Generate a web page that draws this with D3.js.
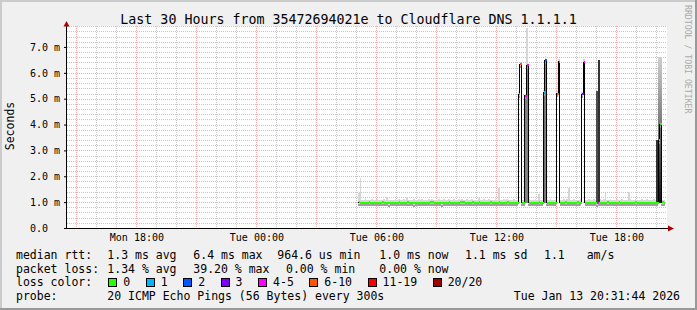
<!DOCTYPE html>
<html>
<head>
<meta charset="utf-8">
<script src="https://cdn.jsdelivr.net/npm/d3@7"></script>
<style>
  body { margin: 0; background: #f0f0f0; }
  text { font-family: "DejaVu Sans Mono", monospace; fill: #000; }
</style>
</head>
<body>
<script>
// graph window (30 hours) and sample grid (5 min rrd step)
var timeStart = new Date(2026, 0, 12, 14, 31, 44);
var timeEnd = new Date(2026, 0, 13, 20, 31, 44);
var sampleStart = new Date(2026, 0, 13, 5, 5);
var stepMin = 5;

// median rtt per sample, in ms
var median = [
  0.99,0.98,0.97,0.98,0.97,0.98,0.99,0.98,0.97,0.97,
  0.98,0.98,0.97,0.98,0.99,0.98,0.98,0.97,0.96,0.97,
  0.98,0.98,0.97,0.98,0.99,0.98,0.97,0.97,0.98,0.99,
  0.98,0.97,0.97,0.96,0.97,0.98,0.98,0.97,0.98,0.98,
  0.97,0.97,0.98,0.99,0.99,0.98,0.97,0.98,0.98,0.97,
  0.96,0.97,0.98,0.98,0.99,0.98,0.97,0.98,0.98,0.97,
  0.98,0.99,1.00,0.99,0.98,0.97,0.98,0.98,0.99,0.98,
  0.97,0.98,0.99,0.98,0.97,0.98,0.98,0.97,0.98,0.99,
  0.98,0.98,0.97,0.98,0.99,0.98,0.97,0.98,0.98,0.99,
  0.98,0.97,0.98,0.98,0.97,0.98,5.18,6.33,0.98,0.97,
  5.12,6.30,0.98,0.97,0.98,0.98,0.97,0.98,0.99,0.98,
  0.97,5.25,6.48,0.98,0.97,0.98,0.98,0.97,0.98,5.20,
  6.42,0.98,0.97,0.98,0.99,0.98,0.97,0.98,0.98,0.97,
  0.98,0.99,0.98,0.97,5.18,6.40,0.97,0.98,0.98,0.97,
  0.98,0.98,0.97,0.96,0.97,0.98,0.98,0.97,0.98,0.99,
  0.98,0.97,0.98,0.98,0.97,0.98,0.99,0.98,0.97,0.98,
  0.98,0.97,0.98,0.98,0.97,0.98,0.99,0.98,0.97,0.97,
  0.98,0.98,0.97,0.98,0.98,0.97,0.98,0.98,0.97,0.98,
  3.40,4.02,0.99,0.98
];

// smoke: fastest and slowest ping per sample, in ms
var smokeMin = [
  0.90,0.89,0.90,0.91,0.90,0.89,0.90,0.91,0.90,0.89,
  0.90,0.91,0.90,0.89,0.90,0.91,0.90,0.90,0.89,0.90,
  0.91,0.90,0.89,0.90,0.91,0.90,0.89,0.90,0.91,0.90,
  0.90,0.89,0.90,0.89,0.90,0.91,0.90,0.90,0.91,0.90,
  0.89,0.90,0.91,0.90,0.90,0.91,0.90,0.89,0.90,0.90,
  0.89,0.90,0.91,0.90,0.91,0.90,0.89,0.90,0.91,0.90,
  0.90,0.91,0.92,0.91,0.90,0.89,0.90,0.91,0.90,0.90,
  0.89,0.90,0.91,0.90,0.89,0.90,0.91,0.90,0.90,0.91,
  0.90,0.90,0.89,0.90,0.91,0.90,0.89,0.90,0.91,0.90,
  0.90,0.89,0.90,0.91,0.90,0.89,5.12,6.26,0.90,0.89,
  5.05,6.22,0.90,0.89,0.90,0.91,0.90,0.89,0.90,0.91,
  0.90,5.18,6.40,0.90,0.89,0.90,0.91,0.90,0.89,5.14,
  6.35,0.90,0.89,0.90,0.91,0.90,0.89,0.90,0.91,0.90,
  0.90,0.91,0.90,0.89,5.12,6.33,0.89,0.90,0.91,0.90,
  0.90,0.91,0.90,0.88,0.89,0.90,0.91,0.90,0.89,0.90,
  0.91,0.90,0.89,0.90,0.91,0.90,0.89,0.90,0.91,0.90,
  0.90,0.89,0.90,0.91,0.90,0.89,0.90,0.91,0.90,0.89,
  0.90,0.91,0.90,0.89,0.90,0.91,0.90,0.90,0.89,0.90,
  0.95,0.98,0.90,0.91
];
var smokeMax = [
  1.35,1.95,1.10,1.08,1.12,1.09,1.07,1.10,1.14,1.08,
  1.09,1.11,1.07,1.10,1.08,1.12,1.10,1.20,1.09,1.07,
  1.10,1.08,1.12,1.09,1.11,1.07,1.10,1.13,1.08,1.18,
  1.10,1.08,1.09,1.12,1.07,1.10,1.11,1.08,1.14,1.09,
  1.07,1.10,1.12,1.08,1.11,1.09,1.07,1.10,1.13,1.08,
  1.09,1.11,1.08,1.10,1.12,1.07,1.09,1.11,1.08,1.10,
  1.12,1.09,1.14,1.10,1.08,1.11,1.07,1.09,1.12,1.10,
  1.08,1.10,1.15,1.09,1.07,1.11,1.10,1.08,1.12,1.09,
  1.10,1.08,1.11,1.09,1.55,1.10,1.08,1.12,1.09,1.11,
  1.08,1.10,1.09,1.12,1.08,1.10,5.25,6.42,1.10,1.09,
  5.20,7.75,1.12,1.08,1.10,1.09,1.11,1.08,1.30,1.10,
  1.09,5.32,6.65,1.10,1.08,1.11,1.09,1.10,1.08,5.28,
  6.52,1.10,1.08,1.12,1.09,1.11,1.53,1.10,1.08,1.12,
  1.09,1.10,1.08,1.11,5.26,6.52,1.10,1.08,1.12,1.09,
  1.10,1.11,1.08,1.15,1.10,1.12,1.09,1.11,1.37,1.10,
  1.08,1.12,1.09,1.10,1.08,1.11,1.09,1.10,1.12,1.08,
  1.10,1.09,1.38,1.11,1.08,1.10,1.12,1.09,1.10,1.08,
  1.11,1.09,1.10,1.12,1.08,1.10,1.09,1.11,1.08,1.10,
  6.60,6.60,1.10,1.09
];

// dense smoke where the pings split between two levels
var coreIdx = [100, 101, 111, 112, 143, 144, 179, 180, 181];
var coreLow = [0.95, 0.95, 0.95, 0.95, 0.95, 0.95, 0.95, 0.95, 0.95];
var coreTop = [5.10, 6.28, 5.22, 6.45, 5.30, 6.50, 3.40, 6.60, 6.60];
var coreDensity = [0.45, 0.45, 0.55, 0.45, 0.75, 0.9, 0.9, 1, 1];

// samples that lost packets (index into lossLabels)
var lossIdx = [96, 97, 100, 101, 111, 112, 119, 120, 134, 135, 143];
var lossBucket = [5, 5, 4, 4, 1, 2, 5, 5, 3, 4, 4];

var lossLabels = ["0", "1", "2", "3", "4-5", "6-10", "11-19", "20/20"];
var lossColors = ["#26ff00", "#00b8ff", "#0059ff", "#7e00ff", "#ff00ff", "#ff5500", "#ff0000", "#a10000"];

var yMajor = [0, 1, 2, 3, 4, 5, 6, 7];
var medianStats = ["1.3 ms avg", "6.4 ms max", "964.6 us min", "1.0 ms now", "1.1 ms sd", "1.1", "am/s"];
var lossStats = ["1.34 % avg", "39.20 % max", "0.00 % min", "0.00 % now"];
var probeText = "20 ICMP Echo Pings (56 Bytes) every 300s";
var stampText = "Tue Jan 13 20:31:44 2026";
var titleText = "Last 30 Hours from 35472694021e to Cloudflare DNS 1.1.1.1";

if (median.length !== smokeMin.length || median.length !== smokeMax.length) {
  throw new Error("length mismatch " + median.length + " " + smokeMin.length + " " + smokeMax.length);
}

var W = 697, H = 310;
var plot = { left: 67, right: 667, top: 26, bottom: 228 };

var svg = d3.select("body").append("svg")
  .attr("width", W)
  .attr("height", H);

// background + shaded frame
svg.append("rect").attr("width", W).attr("height", H).attr("fill", "#f0f0f0");
svg.append("rect").attr("x", 0).attr("y", 0).attr("width", W).attr("height", 2).attr("fill", "#cbcbcb");
svg.append("rect").attr("x", 0).attr("y", 0).attr("width", 2).attr("height", H).attr("fill", "#cbcbcb");
svg.append("rect").attr("x", 0).attr("y", H - 2).attr("width", W).attr("height", 2).attr("fill", "#999999");
svg.append("rect").attr("x", W - 2).attr("y", 0).attr("width", 2).attr("height", H).attr("fill", "#999999");

svg.append("rect")
  .attr("x", plot.left).attr("y", plot.top)
  .attr("width", plot.right - plot.left).attr("height", plot.bottom - plot.top)
  .attr("fill", "#ffffff");

var x = d3.scaleTime().domain([timeStart, timeEnd]).range([plot.left, plot.right]);
var y = d3.scaleLinear().domain([0, 7.81]).range([plot.bottom, plot.top]);

var samples = median.map(function(m, i) {
  var t0 = d3.timeMinute.offset(sampleStart, i * stepMin);
  return { i: i, t0: t0, t1: d3.timeMinute.offset(t0, stepMin), m: m, lo: smokeMin[i], hi: smokeMax[i], loss: 0 };
});
lossIdx.forEach(function(k, j) { samples[k].loss = lossBucket[j]; });

// grid
var px = function(v) { return Math.round(v) + 0.5; };
var grid = svg.append("g").attr("shape-rendering", "crispEdges");

var yMinor = d3.range(1, 40).map(function(k) { return k * 0.2; })
  .filter(function(v) { return Math.abs(v - Math.round(v)) > 1e-6; });
grid.selectAll(".hmin").data(yMinor).enter().append("line")
  .attr("x1", plot.left).attr("x2", plot.right)
  .attr("y1", function(d) { return px(y(d)); }).attr("y2", function(d) { return px(y(d)); })
  .attr("stroke", "#c6c6c6").attr("stroke-dasharray", "1,1");

var hours = d3.timeHour.range(d3.timeHour.ceil(timeStart), timeEnd);
grid.selectAll(".vmin").data(hours.filter(function(d) { return d.getHours() % 3 !== 0; })).enter().append("line")
  .attr("x1", function(d) { return px(x(d)); }).attr("x2", function(d) { return px(x(d)); })
  .attr("y1", plot.top).attr("y2", plot.bottom)
  .attr("stroke", "#c6c6c6").attr("stroke-dasharray", "1,1");

grid.selectAll(".hmaj").data(yMajor.slice(1)).enter().append("line")
  .attr("x1", plot.left).attr("x2", plot.right)
  .attr("y1", function(d) { return px(y(d)); }).attr("y2", function(d) { return px(y(d)); })
  .attr("stroke", "#f2acac").attr("stroke-dasharray", "1,1");

grid.selectAll(".vmaj").data(hours.filter(function(d) { return d.getHours() % 3 === 0; })).enter().append("line")
  .attr("x1", function(d) { return px(x(d)); }).attr("x2", function(d) { return px(x(d)); })
  .attr("y1", plot.top).attr("y2", plot.bottom)
  .attr("stroke", "#f2acac").attr("stroke-dasharray", "1,1");

// smoke
var defs = svg.append("defs");
var grad = defs.append("linearGradient").attr("id", "coreGrad")
  .attr("x1", 0).attr("y1", 0).attr("x2", 0).attr("y2", 1);
grad.append("stop").attr("offset", "0%").attr("stop-color", "#cfcfcf");
grad.append("stop").attr("offset", "100%").attr("stop-color", "#101010");

var shade = d3.scaleLinear().domain([0, 1]).range(["#d0d0d0", "#202020"]);

var graph = svg.append("g").attr("shape-rendering", "crispEdges");

graph.selectAll(".smoke").data(samples).enter().append("rect")
  .attr("x", function(d) { return x(d.t0); })
  .attr("width", function(d) { return x(d.t1) - x(d.t0); })
  .attr("y", function(d) { return y(d.hi); })
  .attr("height", function(d) { return y(d.lo) - y(d.hi); })
  .attr("fill", "#d6d6d6");

graph.selectAll(".core").data(coreIdx).enter().append("rect")
  .attr("x", function(k) { return x(samples[k].t0); })
  .attr("width", function(k) { return x(samples[k].t1) - x(samples[k].t0) + 0.5; })
  .attr("y", function(k, j) { return y(coreTop[j]); })
  .attr("height", function(k, j) { return y(coreLow[j]) - y(coreTop[j]); })
  .attr("fill", function(k, j) { return coreDensity[j] >= 1 ? "url(#coreGrad)" : shade(coreDensity[j]); });

// darker smoke just under the median
graph.selectAll(".under").data(samples).enter().append("line")
  .attr("x1", function(d) { return x(d.t0); })
  .attr("x2", function(d) { return x(d.t1); })
  .attr("y1", function(d) { return y(d.m) + 2.5; })
  .attr("y2", function(d) { return y(d.m) + 2.5; })
  .attr("stroke", "#a0a0a0").attr("stroke-width", 2);

// median: black steps, loss coloured treads
var stepLine = d3.line()
  .x(function(d) { return x(d.t); })
  .y(function(d) { return y(d.m); })
  .curve(d3.curveStepAfter);
var stepPts = samples.map(function(d) { return { t: d.t0, m: d.m }; });
stepPts.push({ t: samples[samples.length - 1].t1, m: samples[samples.length - 1].m });
graph.append("path")
  .attr("d", stepLine(stepPts))
  .attr("fill", "none").attr("stroke", "#000").attr("stroke-width", 1);

graph.selectAll(".med").data(samples).enter().append("line")
  .attr("x1", function(d) { return x(d.t0) + 0.5; })
  .attr("x2", function(d) { return x(d.t1) + 0.6; })
  .attr("y1", function(d) { return y(d.m); })
  .attr("y2", function(d) { return y(d.m); })
  .attr("stroke", function(d) { return lossColors[d.loss]; })
  .attr("stroke-width", 2);

// axes
var yAxis = d3.axisLeft(y)
  .tickValues(yMajor)
  .tickSize(3)
  .tickFormat(function(d) { return d === 0 ? "0.0" : d.toFixed(1) + " m"; });
var gy = svg.append("g").attr("transform", "translate(" + plot.left + ",0)").call(yAxis);
gy.select(".domain").remove();
gy.selectAll("text")
  .attr("x", -37).attr("text-anchor", "start")
  .attr("font-family", "DejaVu Sans Mono").attr("font-size", "10px");

var xAxis = d3.axisBottom(x)
  .ticks(d3.timeHour.every(6))
  .tickSize(0)
  .tickPadding(6)
  .tickFormat(d3.timeFormat("%a %H:%M"));
var gx = svg.append("g").attr("transform", "translate(0," + plot.bottom + ")").call(xAxis);
gx.select(".domain").remove();
gx.selectAll("text").attr("font-family", "DejaVu Sans Mono").attr("font-size", "10px");

svg.append("line")
  .attr("x1", plot.left - 0.5).attr("x2", plot.left - 0.5)
  .attr("y1", plot.bottom + 1).attr("y2", 26)
  .attr("stroke", "#000").attr("shape-rendering", "crispEdges");
svg.append("line")
  .attr("x1", plot.left - 3).attr("x2", 669)
  .attr("y1", plot.bottom + 0.5).attr("y2", plot.bottom + 0.5)
  .attr("stroke", "#000").attr("shape-rendering", "crispEdges");
svg.append("path").attr("d", "M63.5,26.5 L66.5,21 L69.5,26.5 Z").attr("fill", "#b00000");
svg.append("path").attr("d", "M668,225.5 L674,228.5 L668,231.5 Z").attr("fill", "#b00000");

// title and labels
svg.append("text")
  .attr("x", 348.5).attr("y", 24)
  .attr("text-anchor", "middle")
  .style("font-size", "13.3px")
  .text(titleText);

svg.append("text")
  .attr("transform", "translate(14,126) rotate(-90)")
  .attr("text-anchor", "middle")
  .style("font-size", "11.5px")
  .text("Seconds");

svg.append("text")
  .attr("transform", "translate(684.5,5) rotate(90)")
  .style("font-size", "8.2px")
  .style("fill", "#aaaaaa")
  .text("RRDTOOL / TOBI OETIKER");

// legend
var rowY = [259, 272.5, 286, 299.5];
function legendRow(yy, items, xs) {
  svg.selectAll(null).data(items).enter().append("text")
    .attr("x", function(d, i) { return xs[i]; })
    .attr("y", yy)
    .style("font-size", "11.5px")
    .text(function(d) { return d; });
}
legendRow(rowY[0], ["median rtt:"].concat(medianStats), [16, 107.3, 193.3, 277.3, 379.3, 465, 544, 586.7]);
legendRow(rowY[1], ["packet loss:"].concat(lossStats), [16, 107.3, 193.3, 286, 379.3]);
legendRow(rowY[2], ["loss color:"], [16]);
legendRow(rowY[3], ["probe:", probeText], [16, 107.3]);
svg.append("text")
  .attr("x", 680).attr("y", rowY[3])
  .attr("text-anchor", "end")
  .style("font-size", "11.5px")
  .text(stampText);

var bx = 108.3;
lossLabels.forEach(function(lab, i) {
  svg.append("rect")
    .attr("x", Math.round(bx) + 0.5).attr("y", 278.5)
    .attr("width", 8).attr("height", 8)
    .attr("fill", lossColors[i]).attr("stroke", "#000")
    .attr("shape-rendering", "crispEdges");
  var t = svg.append("text")
    .attr("x", bx + 15).attr("y", rowY[2])
    .style("font-size", "11.5px")
    .text(lab);
  bx = bx + 15 + t.node().getComputedTextLength() + 15.5;
});
</script>
</body>
</html>
